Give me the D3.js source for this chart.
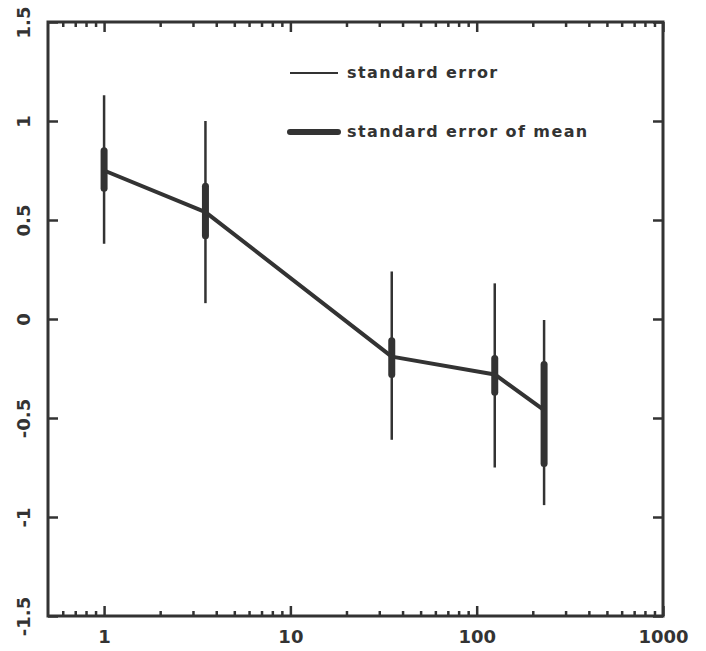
<!DOCTYPE html>
<html>
<head>
<meta charset="utf-8">
<script src="https://cdn.jsdelivr.net/npm/d3@7"></script>
<style>
  body { margin: 0; background: #fff; }
  text { font-family: 'DejaVu Sans', sans-serif; font-weight: bold; fill: #333; }
</style>
</head>
<body>
<svg width="706" height="651"></svg>
<script>
const xVals = [1, 3.5, 35, 125, 230];
const means = [0.75, 0.54, -0.19, -0.28, -0.46];
const seLow = [0.38, 0.08, -0.61, -0.75, -0.94];
const seHigh = [1.13, 1.0, 0.24, 0.18, -0.005];
const semLow = [0.66, 0.42, -0.28, -0.37, -0.73];
const semHigh = [0.85, 0.67, -0.11, -0.2, -0.23];
const yTicks = [-1.5, -1, -0.5, 0, 0.5, 1, 1.5];
const xTicks = [1, 10, 100, 1000];
const legendLabels = ['standard error', 'standard error of mean'];

const data = xVals.map((x, i) => ({
    x, mean: means[i], seLow: seLow[i], seHigh: seHigh[i], semLow: semLow[i], semHigh: semHigh[i]
}));

const svg = d3.select('svg');
const ink = '#333';
const margin = { top: 22, right: 43, bottom: 35, left: 48 };
const width = 706, height = 651;
const innerWidth = width - margin.left - margin.right;
const innerHeight = height - margin.top - margin.bottom;

const xScale = d3.scaleLog().domain([0.5, 1000]).range([0, innerWidth]);
const yScale = d3.scaleLinear().domain([-1.5, 1.5]).range([innerHeight, 0]);

const g = svg.append('g').attr('transform', `translate(${margin.left},${margin.top})`);

// minor log ticks
const minor = [];
for (let d = 0.1; d < 1000; d *= 10) {
    for (let k = 1; k <= 9; k++) {
        const v = d * k;
        if (v > 0.5 && v < 1000 && !xTicks.includes(+v.toPrecision(3))) minor.push(v);
    }
}

const xAxisBottom = d3.axisBottom(xScale)
    .tickValues(minor).tickSize(-5).tickFormat('');
const xMajorBottom = d3.axisBottom(xScale)
    .tickValues(xTicks).tickSize(-10).tickPadding(14).tickFormat(d3.format('d'));
const xAxisTop = d3.axisTop(xScale)
    .tickValues(minor).tickSize(-5).tickFormat('');
const xMajorTop = d3.axisTop(xScale)
    .tickValues(xTicks).tickSize(-10).tickFormat('');
const yAxisLeft = d3.axisLeft(yScale)
    .tickValues(yTicks).tickSize(-10).tickPadding(14).tickFormat(d3.format('~g'));
const yAxisRight = d3.axisRight(yScale)
    .tickValues(yTicks).tickSize(-10).tickFormat('');

function style(sel) {
    sel.selectAll('.domain').remove();
    sel.selectAll('line').attr('stroke', ink).attr('stroke-width', 2.5);
    sel.selectAll('text').attr('font-size', 18).attr('fill', ink);
}

g.append('g').attr('transform', `translate(0,${innerHeight})`).call(xAxisBottom).call(style);
g.append('g').attr('transform', `translate(0,${innerHeight})`).call(xMajorBottom).call(style);
g.append('g').call(xAxisTop).call(style);
g.append('g').call(xMajorTop).call(style);
g.append('g').attr('transform', `translate(${innerWidth},0)`).call(yAxisRight).call(style);

const yAxisG = g.append('g').call(yAxisLeft).call(style);
yAxisG.selectAll('.tick text')
    .attr('text-anchor', 'middle')
    .attr('dy', '0.35em')
    .attr('transform', 'translate(-24,0) rotate(-90)')
    .attr('x', 0)
    .attr('y', 0)
    .text(d => d3.format('~g')(d).replace('\u2212', '-'));

// frame
g.append('rect')
    .attr('width', innerWidth).attr('height', innerHeight)
    .attr('fill', 'none').attr('stroke', ink).attr('stroke-width', 3);

// standard error whiskers
g.selectAll('.se').data(data).join('line')
    .attr('class', 'se')
    .attr('x1', d => xScale(d.x)).attr('x2', d => xScale(d.x))
    .attr('y1', d => yScale(d.seLow)).attr('y2', d => yScale(d.seHigh))
    .attr('stroke', ink).attr('stroke-width', 2.5);

// standard error of mean
g.selectAll('.sem').data(data).join('line')
    .attr('class', 'sem')
    .attr('x1', d => xScale(d.x)).attr('x2', d => xScale(d.x))
    .attr('y1', d => yScale(d.semLow)).attr('y2', d => yScale(d.semHigh))
    .attr('stroke', ink).attr('stroke-width', 7).attr('stroke-linecap', 'round');

const lineGenerator = d3.line()
    .x(d => xScale(d.x))
    .y(d => yScale(d.mean));

g.append('path')
    .attr('d', lineGenerator(data))
    .attr('fill', 'none')
    .attr('stroke', ink)
    .attr('stroke-width', 4)
    .attr('stroke-linejoin', 'round');

// legend
const legend = svg.append('g').attr('transform', 'translate(290,73)');
legendLabels.forEach((label, i) => {
    const row = legend.append('g').attr('transform', `translate(0,${i * 59})`);
    row.append('line')
        .attr('x1', 0).attr('x2', 48)
        .attr('stroke', ink)
        .attr('stroke-width', i === 0 ? 2 : 6)
        .attr('stroke-linecap', i === 0 ? 'butt' : 'round');
    row.append('text')
        .attr('x', 57).attr('y', 5)
        .attr('font-size', 16)
        .attr('letter-spacing', 1.4)
        .text(label);
});
</script>
</body>
</html>
